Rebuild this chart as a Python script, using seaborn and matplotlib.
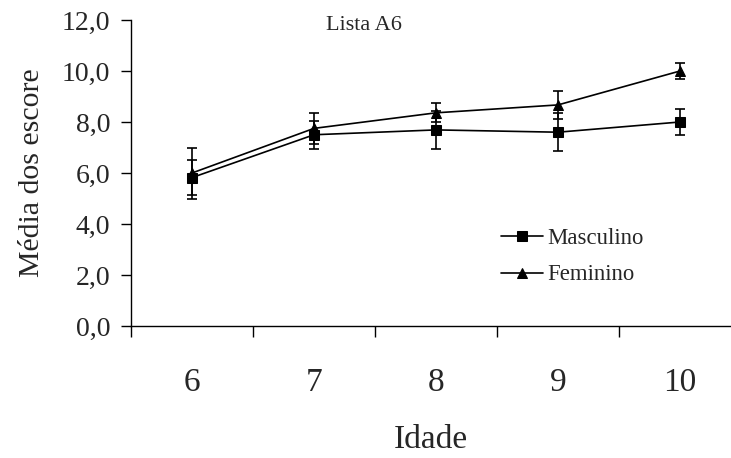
import matplotlib
matplotlib.use("Agg")
import matplotlib.pyplot as plt
import seaborn as sns
import pandas as pd
import numpy as np
from matplotlib.ticker import FixedLocator

ages = [6, 7, 8, 9, 10]
masc_mean = [5.82, 7.5, 7.69, 7.6, 8.0]
masc_err = [0.7, 0.55, 0.74, 0.75, 0.5]
fem_mean = [6.0, 7.75, 8.36, 8.67, 10.0]
fem_err = [1.0, 0.62, 0.37, 0.55, 0.33]
series_names = ["Masculino", "Feminino"]
ytick_vals = [0, 2, 4, 6, 8, 10, 12]
ytick_labels = ["0,0", "2,0", "4,0", "6,0", "8,0", "10,0", "12,0"]

sns.set_style("ticks")
plt.rcParams["font.family"] = ["Liberation Serif", "DejaVu Serif"]

df = pd.DataFrame({
    "Idade": ages * 2,
    "Media": masc_mean + fem_mean,
    "Sexo": [series_names[0]] * 5 + [series_names[1]] * 5,
})

fig = plt.figure(figsize=(7.31, 4.58), dpi=100)
W, H = 731, 458
ax = fig.add_axes([131 / W, (H - 326) / H, 600 / W, 306 / H])

# error bars
ax.errorbar(ages, masc_mean, yerr=masc_err, fmt="none", ecolor="black",
            elinewidth=1.2, capsize=3.7, capthick=1.2, zorder=2)
ax.errorbar(ages, fem_mean, yerr=fem_err, fmt="none", ecolor="black",
            elinewidth=1.2, capsize=3.7, capthick=1.2, zorder=2)

sns.lineplot(data=df, x="Idade", y="Media", hue="Sexo", style="Sexo",
             markers={"Masculino": "s", "Feminino": "^"},
             dashes=False, palette={"Masculino": "black", "Feminino": "black"},
             markersize=6.8, linewidth=1.2, markeredgecolor="black",
             ax=ax, zorder=3)

ax.set_xlim(5.5, 5.5 + 600 / 122)
ax.set_ylim(0, 12)
ax.set_xticks(ages)
ax.set_xticklabels([str(a) for a in ages])
ax.xaxis.set_minor_locator(FixedLocator([5.5, 6.5, 7.5, 8.5, 9.5]))
ax.tick_params(axis="x", which="major", length=0, pad=30, labelsize=24)
ax.tick_params(axis="x", which="minor", length=8, width=1, color="black")
ax.set_yticks(ytick_vals)
ax.set_yticklabels(ytick_labels)
ax.tick_params(axis="y", length=7, width=1, color="black", labelsize=20, pad=8)

for s in ["top", "right"]:
    ax.spines[s].set_visible(False)
for s in ["left", "bottom"]:
    ax.spines[s].set_color("black")
    ax.spines[s].set_linewidth(1)

ax.set_xlabel("Idade", fontsize=24, labelpad=19)
ax.set_ylabel("Média dos escore", fontsize=21.5, labelpad=12)

fig.text(364 / W, 1 - 26 / H, "Lista A6", fontsize=16, ha="center", va="center")

leg = ax.legend(loc="upper left", bbox_to_anchor=(501 / W, 1 - 228 / H),
                bbox_transform=fig.transFigure, frameon=False, fontsize=16.4,
                handlelength=1.85, handletextpad=0.2, labelspacing=0.68,
                borderpad=0, borderaxespad=0)

fig.savefig("out.png", dpi=100)
